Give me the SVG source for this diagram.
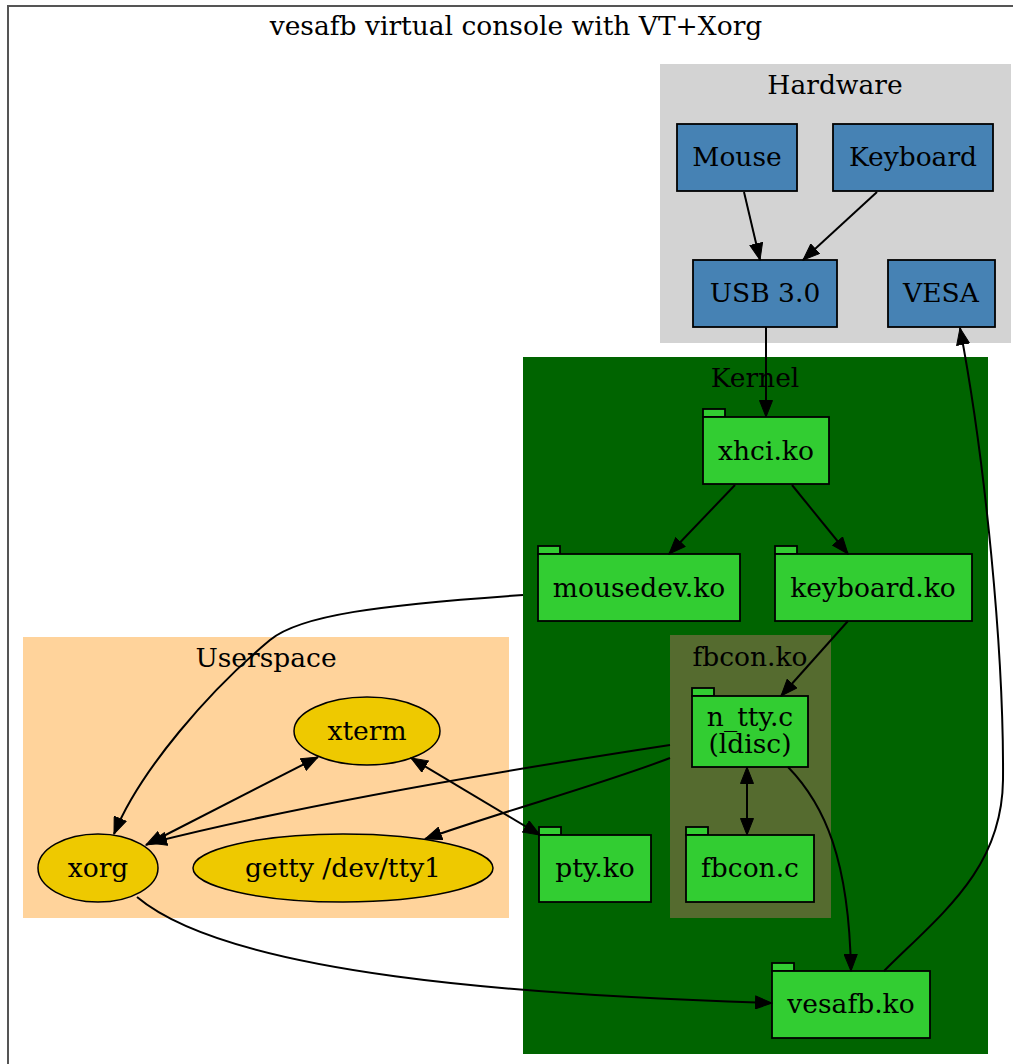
<svg xmlns="http://www.w3.org/2000/svg" width="1013" height="1064" viewBox="0 0 1013 1064">
  <style>
    text { font-family: "DejaVu Serif", "Liberation Serif", serif; font-size: 26.5px; fill: #000; text-anchor: middle; }
    .box { stroke: #000; stroke-width: 1.8; }
    .hw { fill: #4682b4; }
    .mod { fill: #32cd32; }
    .proc { fill: #eec900; stroke: #000; stroke-width: 1.5; }
    .edge { fill: none; stroke: #000; stroke-width: 2; }
  </style>
  <defs>
    <marker id="arrow" markerUnits="userSpaceOnUse" markerWidth="18" markerHeight="14" refX="17" refY="7" orient="auto-start-reverse">
      <path d="M0.5,0.5 L17,7 L0.5,13.5 z" fill="#000" stroke="#000" stroke-width="1"/>
    </marker>
  </defs>

  <!-- outer graph frame -->
  <rect x="0" y="0" width="1013" height="1064" fill="#fff"/>
  <rect x="8" y="6" width="1020" height="1080" fill="none" stroke="#555" stroke-width="2"/>
  <text x="516" y="35">vesafb virtual console with VT+Xorg</text>

  <!-- clusters -->
  <g id="cluster-hardware">
    <rect x="660" y="64" width="351" height="279" fill="#d3d3d3"/>
    <text x="835" y="94">Hardware</text>
  </g>
  <g id="cluster-kernel">
    <rect x="523" y="357" width="465" height="697" fill="#006400"/>
    <text x="755" y="387">Kernel</text>
  </g>
  <g id="cluster-fbcon">
    <rect x="670" y="635" width="161" height="283" fill="#556b2f"/>
    <text x="750" y="666">fbcon.ko</text>
  </g>
  <g id="cluster-userspace">
    <rect x="23" y="637" width="486" height="281" fill="#ffd39b"/>
    <text x="266" y="667">Userspace</text>
  </g>

  <!-- hardware nodes -->
  <g id="mouse">
    <rect class="box hw" x="677" y="124" width="120" height="67"/>
    <text x="737" y="166">Mouse</text>
  </g>
  <g id="keyboard">
    <rect class="box hw" x="833" y="124" width="160" height="67"/>
    <text x="913" y="166">Keyboard</text>
  </g>
  <g id="usb">
    <rect class="box hw" x="693" y="260" width="144" height="67"/>
    <text x="765" y="302">USB 3.0</text>
  </g>
  <g id="vesa">
    <rect class="box hw" x="888" y="260" width="107" height="67"/>
    <text x="941" y="302">VESA</text>
  </g>

  <!-- kernel modules (tab/folder shapes) -->
  <g id="xhci">
    <rect class="box mod" x="703" y="409" width="22" height="8"/>
    <rect class="box mod" x="703" y="417" width="126" height="67"/>
    <text x="766" y="460">xhci.ko</text>
  </g>
  <g id="mousedev">
    <rect class="box mod" x="538" y="546" width="22" height="8"/>
    <rect class="box mod" x="538" y="554" width="202" height="67"/>
    <text x="639" y="597">mousedev.ko</text>
  </g>
  <g id="keyboard-ko">
    <rect class="box mod" x="775" y="546" width="22" height="8"/>
    <rect class="box mod" x="775" y="554" width="197" height="67"/>
    <text x="873" y="597">keyboard.ko</text>
  </g>
  <g id="n-tty">
    <rect class="box mod" x="692" y="688" width="22" height="8"/>
    <rect class="box mod" x="692" y="696" width="116" height="71"/>
    <text x="750" y="726">n_tty.c</text>
    <text x="750" y="753">(ldisc)</text>
  </g>
  <g id="fbcon-c">
    <rect class="box mod" x="686" y="827" width="22" height="8"/>
    <rect class="box mod" x="686" y="835" width="128" height="67"/>
    <text x="750" y="877">fbcon.c</text>
  </g>
  <g id="pty">
    <rect class="box mod" x="539" y="827" width="22" height="8"/>
    <rect class="box mod" x="539" y="835" width="112" height="67"/>
    <text x="595" y="877">pty.ko</text>
  </g>
  <g id="vesafb">
    <rect class="box mod" x="772" y="963" width="22" height="8"/>
    <rect class="box mod" x="772" y="971" width="158" height="67"/>
    <text x="851" y="1013">vesafb.ko</text>
  </g>

  <!-- userspace processes -->
  <g id="xterm">
    <ellipse class="proc" cx="367" cy="731" rx="73" ry="34"/>
    <text x="367" y="740">xterm</text>
  </g>
  <g id="xorg">
    <ellipse class="proc" cx="98" cy="868" rx="60" ry="34"/>
    <text x="98" y="877">xorg</text>
  </g>
  <g id="getty">
    <ellipse class="proc" cx="343" cy="868" rx="150" ry="34"/>
    <text x="343" y="877">getty /dev/tty1</text>
  </g>

  <!-- connectors -->
  <g id="edges">
    <path class="edge" marker-end="url(#arrow)" d="M744,192 L760,260"/>
    <path class="edge" marker-end="url(#arrow)" d="M877,192 L803,260"/>
    <path class="edge" marker-end="url(#arrow)" d="M766,327 L766,417"/>
    <path class="edge" marker-end="url(#arrow)" d="M735,485 L669,554"/>
    <path class="edge" marker-end="url(#arrow)" d="M792,485 L848,554"/>
    <path class="edge" marker-end="url(#arrow)" d="M848,621 L781,696"/>
    <path class="edge" marker-start="url(#arrow)" marker-end="url(#arrow)" d="M747,767 L747,835"/>
    <path class="edge" marker-end="url(#arrow)" d="M788,767 C825,805 849,860 851,971"/>
    <path class="edge" marker-end="url(#arrow)" d="M884,971 C940,915 1002,870 1003,780 C1004,650 985,460 960,328"/>
    <path class="edge" marker-end="url(#arrow)" d="M523,595 C380,605 300,615 270,640 C210,690 140,770 114,834"/>
    <path class="edge" marker-end="url(#arrow)" d="M670,745 C520,768 300,805 150,843"/>
    <path class="edge" marker-end="url(#arrow)" d="M670,758 C600,785 500,812 425,839"/>
    <path class="edge" marker-start="url(#arrow)" marker-end="url(#arrow)" d="M146,845 L318,757"/>
    <path class="edge" marker-start="url(#arrow)" marker-end="url(#arrow)" d="M411,758 L540,835"/>
    <path class="edge" marker-end="url(#arrow)" d="M137,897 C230,975 520,995 772,1003"/>
  </g>
</svg>
